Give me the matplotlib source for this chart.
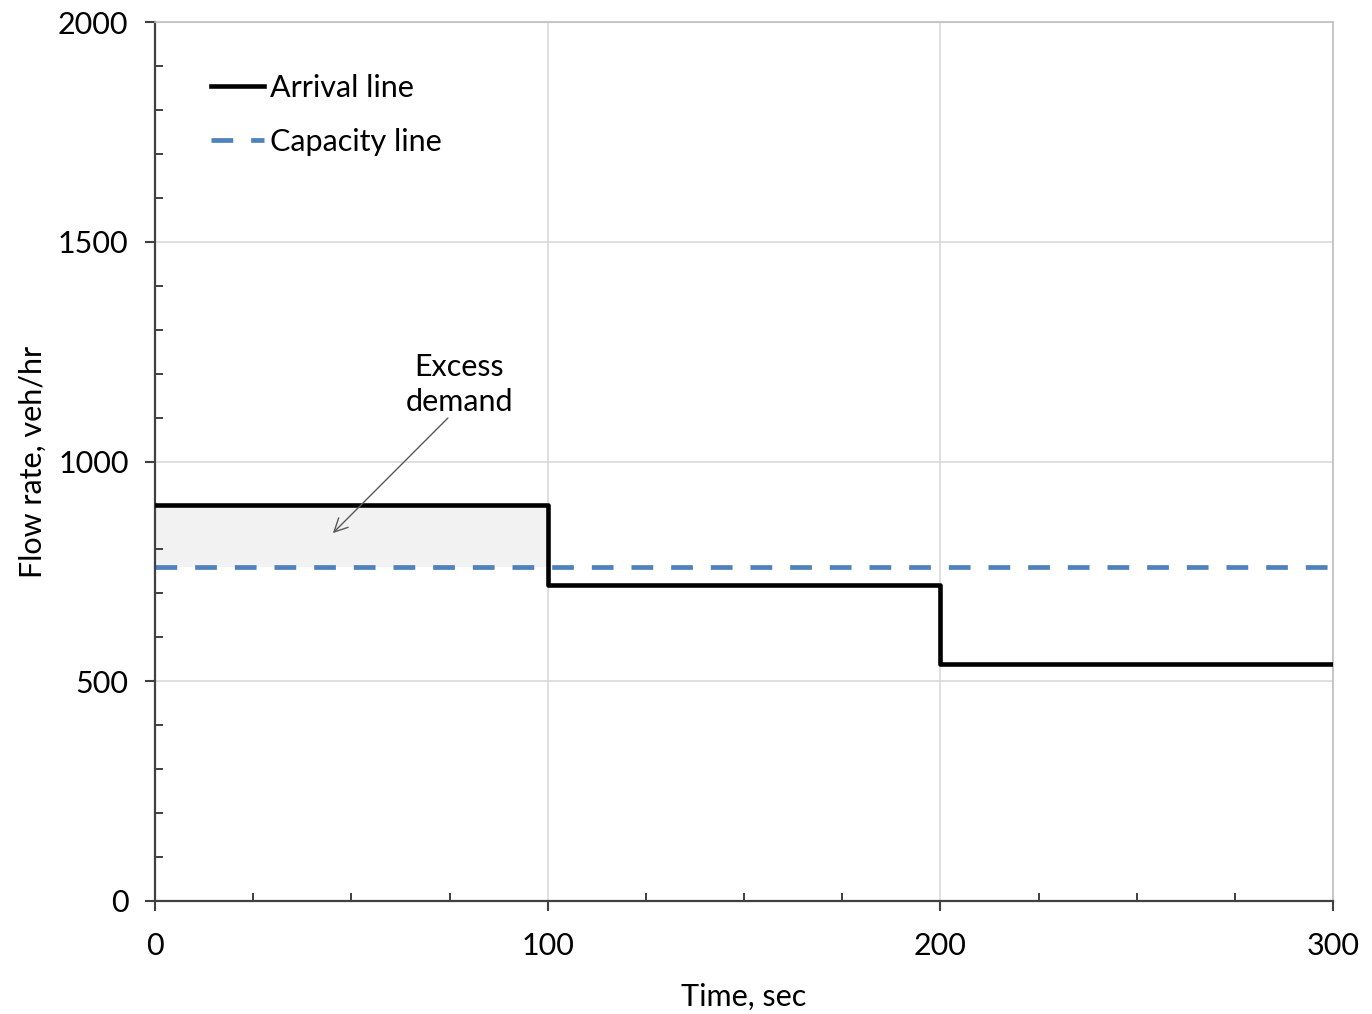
import matplotlib
matplotlib.use("Agg")
import matplotlib.pyplot as plt
from matplotlib.ticker import MultipleLocator

plt.rcParams['font.family'] = ['Lato', 'DejaVu Sans']

# Step boundaries (sec) and arrival flow rate in each interval (veh/hr)
time_edges = [0, 100, 200, 300]
arrival_flow = [900, 720, 540]
capacity_flow = 760
excess_interval = [0, 100]

fig = plt.figure(figsize=(13.72, 10.14), dpi=100)
ax = fig.add_axes([155/1372, 1 - 901/1014, (1333 - 155)/1372, (901 - 22)/1014])

ax.set_xlim(0, 300)
ax.set_ylim(0, 2000)

# gridlines
ax.xaxis.set_major_locator(MultipleLocator(100))
ax.yaxis.set_major_locator(MultipleLocator(500))
ax.xaxis.set_minor_locator(MultipleLocator(25))
ax.yaxis.set_minor_locator(MultipleLocator(100))
ax.grid(True, which='major', color='#d9d9d9', linewidth=1.2, zorder=0)

# shaded excess-demand region
ax.fill_between(excess_interval, capacity_flow, arrival_flow[0],
                color='#f2f2f2', zorder=1, linewidth=0)

# arrival step line
ax.step(time_edges, arrival_flow + [arrival_flow[-1]], where='post',
        color='black', linewidth=3.3, label='Arrival line', zorder=3)

# capacity line
ax.plot([time_edges[0], time_edges[-1]], [capacity_flow, capacity_flow],
        color='#4F81BD', linewidth=3.4, dashes=(4.6, 3.8),
        label='Capacity line', zorder=2)

# spines
for s in ['top', 'right']:
    ax.spines[s].set_color('#bfbfbf')
    ax.spines[s].set_linewidth(1.2)
for s in ['left', 'bottom']:
    ax.spines[s].set_color('#404040')
    ax.spines[s].set_linewidth(1.6)

ax.tick_params(which='major', direction='out', length=7, width=1.5,
               color='#404040', labelsize=22, pad=12)
ax.tick_params(axis='x', which='major', pad=15)
ax.tick_params(which='minor', direction='in', length=6, width=1.4,
               color='#404040')

ax.set_xlabel('Time, sec', fontsize=22, labelpad=17)
ax.set_ylabel('Flow rate, veh/hr', fontsize=22, labelpad=8)

# excess-demand label and arrow
ax.text(77.5, 1176, 'Excess\ndemand', ha='center', va='center',
        fontsize=22, linespacing=1.3)
ax.annotate('', xy=(45.3, 837), xytext=(74.6, 1099),
            arrowprops=dict(arrowstyle='->', color='#595959', lw=1.0,
                            shrinkA=0, shrinkB=0, mutation_scale=24))

leg = ax.legend(loc='upper left', bbox_to_anchor=(0.037, 0.955), frameon=False,
                fontsize=22, handlelength=1.75, handletextpad=0.2,
                labelspacing=0.85, borderaxespad=0)

fig.savefig('out.png', dpi=100, facecolor='white')
